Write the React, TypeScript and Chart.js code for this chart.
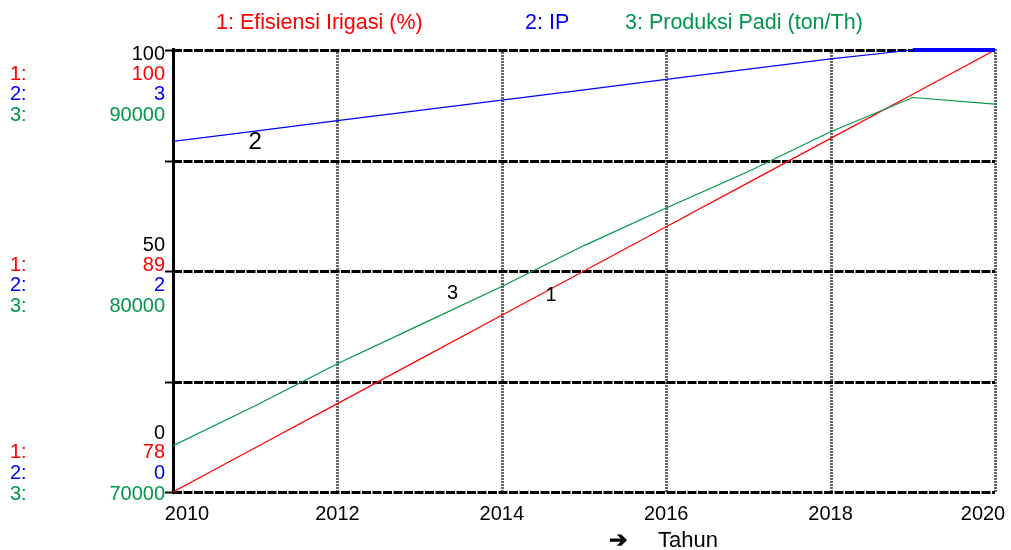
import React, { useEffect, useRef } from "react";
import { Chart, registerables } from "chart.js";

Chart.register(...registerables);

const years = [2010, 2011, 2012, 2013, 2014, 2015, 2016, 2017, 2018, 2019, 2020];
const efisiensiIrigasi = [78, 80.2, 82.4, 84.6, 86.8, 89, 91.2, 93.4, 95.6, 97.8, 100];
const ipValues = [2.38, 2.45, 2.52, 2.59, 2.66, 2.73, 2.8, 2.87, 2.94, 3.0, 3.0];
const produksiPadi = [72100, 73900, 75800, 77550, 79300, 81150, 82850, 84500, 86300, 87850, 87550];

const xTickYears = [2010, 2012, 2014, 2016, 2018, 2020];
const seriesNames = ["1: Efisiensi Irigasi (%)", "2: IP", "3: Produksi Padi (ton/Th)"];
const seriesColors = ["#ff0000", "#0000ff", "#00964b"];
const blackTickLabels = ["100", "50", "0"];
const efisiensiTickLabels = ["100", "89", "78"];
const ipTickLabels = ["3", "2", "0"];
const produksiTickLabels = ["90000", "80000", "70000"];
const xAxisTitle = "Tahun";

const FONT = "'Liberation Sans', Arial, sans-serif";

const overlayPlugin = {
  id: "stellaOverlay",
  beforeDatasetsDraw(chart: any) {
    const { ctx, chartArea } = chart;
    const xs = chart.scales.x;
    const ys = chart.scales.y1;
    const { left, right, top, bottom } = chartArea;
    ctx.save();
    // vertical grid lines
    xTickYears.forEach((yr, i) => {
      const x = Math.round(xs.getPixelForValue(yr)) + 0.5;
      if (i === 0) return;
      ctx.strokeStyle = "rgba(0,0,0,0.6)";
      ctx.lineWidth = 3;
      ctx.setLineDash([2, 1]);
      ctx.beginPath();
      ctx.moveTo(x, top - 1);
      ctx.lineTo(x, bottom + 1);
      ctx.stroke();
    });
    // horizontal grid lines (quarters)
    const hVals = [78, 83.5, 89, 94.5, 100];
    hVals.forEach((v) => {
      const y = Math.round(ys.getPixelForValue(v)) + 0.5;
      ctx.strokeStyle = "#000";
      ctx.lineWidth = 3;
      ctx.setLineDash([9, 1.5]);
      ctx.beginPath();
      ctx.moveTo(left, y);
      ctx.lineTo(right, y);
      ctx.stroke();
      // tick mark on left
      ctx.setLineDash([]);
      ctx.lineWidth = 2;
      ctx.beginPath();
      ctx.moveTo(left - 8, y);
      ctx.lineTo(left, y);
      ctx.stroke();
    });
    // left solid border
    ctx.setLineDash([]);
    ctx.strokeStyle = "#000";
    ctx.lineWidth = 3;
    const lx = Math.round(xs.getPixelForValue(xTickYears[0])) + 0.5;
    ctx.beginPath();
    ctx.moveTo(lx, top - 2);
    ctx.lineTo(lx, bottom + 2);
    ctx.stroke();
    ctx.restore();
  },
  afterDraw(chart: any) {
    const { ctx, chartArea } = chart;
    const xs = chart.scales.x;
    const y1 = chart.scales.y1;
    const { left, bottom } = chartArea;
    ctx.save();
    ctx.textBaseline = "middle";

    // legend/title
    ctx.font = `21.5px ${FONT}`;
    ctx.textAlign = "left";
    const legendX = [216, 525, 625];
    seriesNames.forEach((n, i) => {
      ctx.fillStyle = seriesColors[i];
      ctx.fillText(n, legendX[i], 23);
    });

    // left axis label groups
    ctx.font = `20px ${FONT}`;
    const rightX = left - 8;
    const groups = [
      { base: y1.getPixelForValue(100), offs: [4, 24, 44, 65], idx: 0 },
      { base: y1.getPixelForValue(89), offs: [-25.5, -5.5, 14.5, 35.5], idx: 1 },
      { base: y1.getPixelForValue(78), offs: [-59, -39.5, -18.5, 2], idx: 2 },
    ];
    groups.forEach((g) => {
      ctx.textAlign = "right";
      ctx.fillStyle = "#000";
      ctx.fillText(blackTickLabels[g.idx], rightX, g.base + g.offs[0]);
      const vals = [efisiensiTickLabels[g.idx], ipTickLabels[g.idx], produksiTickLabels[g.idx]];
      vals.forEach((v, k) => {
        ctx.fillStyle = seriesColors[k];
        ctx.textAlign = "right";
        ctx.fillText(v, rightX, g.base + g.offs[k + 1]);
        ctx.textAlign = "left";
        ctx.fillText(`${k + 1}:`, 10, g.base + g.offs[k + 1]);
      });
    });

    // x tick labels
    ctx.fillStyle = "#000";
    xTickYears.forEach((yr, i) => {
      const x = xs.getPixelForValue(yr);
      let ax = x;
      if (i === 0) ax = x + 14;
      if (i === xTickYears.length - 1) ax = x - 12;
      ctx.textAlign = "center";
      ctx.fillText(String(yr), ax, bottom + 22);
    });

    // x-axis title with arrow
    ctx.textAlign = "left";
    ctx.font = `bold 22px ${FONT}`;
    ctx.fillText("\u2794", 609, 541);
    ctx.font = `22px ${FONT}`;
    ctx.fillText(xAxisTitle, 658, 541);

    // series number markers
    ctx.font = `24px ${FONT}`;
    ctx.textAlign = "center";
    ctx.fillStyle = "#000";
    ctx.fillText("2", xs.getPixelForValue(2011), chart.scales.y2.getPixelForValue(2.375));
    ctx.font = `20px ${FONT}`;
    ctx.fillText("3", xs.getPixelForValue(2013.4), y1.getPixelForValue(87.9));
    ctx.fillText("1", xs.getPixelForValue(2014.6), y1.getPixelForValue(87.8));
    ctx.restore();
  },
};

export default function App() {
  const ref = useRef<HTMLCanvasElement | null>(null);
  useEffect(() => {
    document.body.style.margin = "0";
    if (!ref.current) return;
    const mk = (arr: number[]) => years.map((x, i) => ({ x, y: arr[i] }));
    const chart = new Chart(ref.current, {
      type: "line",
      data: {
        datasets: [
          {
            label: seriesNames[1],
            data: mk(ipValues),
            yAxisID: "y2",
            borderColor: seriesColors[1],
            borderWidth: 1.2,
            pointRadius: 0,
            tension: 0,
            clip: false,
            segment: {
              borderWidth: (c: any) => (c.p0.parsed.y >= 3 && c.p1.parsed.y >= 3 ? 4 : 1.2),
            },
          } as any,
          {
            label: seriesNames[2],
            data: mk(produksiPadi),
            yAxisID: "y3",
            borderColor: seriesColors[2],
            borderWidth: 1.2,
            pointRadius: 0,
            tension: 0,
          },
          {
            label: seriesNames[0],
            data: mk(efisiensiIrigasi),
            yAxisID: "y1",
            borderColor: seriesColors[0],
            borderWidth: 1.2,
            pointRadius: 0,
            tension: 0,
          },
        ],
      },
      options: {
        animation: false,
        responsive: false,
        layout: { padding: { left: 173, right: 16, top: 50, bottom: 58 } },
        plugins: { legend: { display: false }, tooltip: { enabled: false } },
        scales: {
          x: {
            type: "linear",
            min: 2010,
            max: 2020,
            ticks: { display: false },
            grid: { display: false },
            border: { display: false },
            afterFit: (s: any) => { s.height = 0; },
          },
          y1: {
            position: "left",
            min: 78,
            max: 100,
            ticks: { display: false },
            grid: { display: false },
            border: { display: false },
            afterFit: (s: any) => { s.width = 0; },
          },
          y2: {
            position: "left",
            min: 0,
            max: 3,
            display: false,
          },
          y3: {
            position: "left",
            min: 70000,
            max: 90000,
            display: false,
          },
        },
      },
      plugins: [overlayPlugin],
    } as any);
    return () => chart.destroy();
  }, []);
  return (
    <canvas
      ref={ref}
      width={1011}
      height={550}
      style={{ position: "fixed", left: 0, top: 0, width: 1011, height: 550 }}
    />
  );
}
